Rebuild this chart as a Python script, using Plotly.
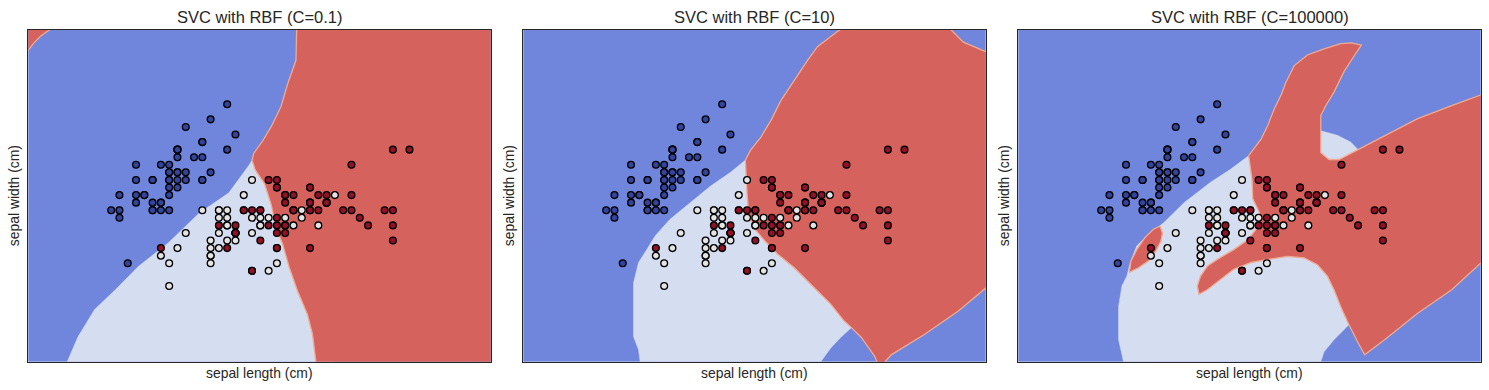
import plotly.graph_objects as go

# ---------------- data: iris sepal length / width / class ----------------
sepal_length = [
    5.1, 4.9, 4.7, 4.6, 5.0, 5.4, 4.6, 5.0, 4.4, 4.9, 5.4, 4.8, 4.8, 4.3, 5.8, 5.7, 5.4, 5.1, 5.7, 5.1,
    5.4, 5.1, 4.6, 5.1, 4.8, 5.0, 5.0, 5.2, 5.2, 4.7, 4.8, 5.4, 5.2, 5.5, 4.9, 5.0, 5.5, 4.9, 4.4, 5.1,
    5.0, 4.5, 4.4, 5.0, 5.1, 4.8, 5.1, 4.6, 5.3, 5.0,
    7.0, 6.4, 6.9, 5.5, 6.5, 5.7, 6.3, 4.9, 6.6, 5.2, 5.0, 5.9, 6.0, 6.1, 5.6, 6.7, 5.6, 5.8, 6.2, 5.6,
    5.9, 6.1, 6.3, 6.1, 6.4, 6.6, 6.8, 6.7, 6.0, 5.7, 5.5, 5.5, 5.8, 6.0, 5.4, 6.0, 6.7, 6.3, 5.6, 5.5,
    5.5, 6.1, 5.8, 5.0, 5.6, 5.7, 5.7, 6.2, 5.1, 5.7,
    6.3, 5.8, 7.1, 6.3, 6.5, 7.6, 4.9, 7.3, 6.7, 7.2, 6.5, 6.4, 6.8, 5.7, 5.8, 6.4, 6.5, 7.7, 7.7, 6.0,
    6.9, 5.6, 7.7, 6.3, 6.7, 7.2, 6.2, 6.1, 6.4, 7.2, 7.4, 7.9, 6.4, 6.3, 6.1, 7.7, 6.3, 6.4, 6.0, 6.9,
    6.7, 6.9, 5.8, 6.8, 6.7, 6.7, 6.3, 6.5, 6.2, 5.9,
]
sepal_width = [
    3.5, 3.0, 3.2, 3.1, 3.6, 3.9, 3.4, 3.4, 2.9, 3.1, 3.7, 3.4, 3.0, 3.0, 4.0, 4.4, 3.9, 3.5, 3.8, 3.8,
    3.4, 3.7, 3.6, 3.3, 3.4, 3.0, 3.4, 3.5, 3.4, 3.2, 3.1, 3.4, 4.1, 4.2, 3.1, 3.2, 3.5, 3.6, 3.0, 3.4,
    3.5, 2.3, 3.2, 3.5, 3.8, 3.0, 3.8, 3.2, 3.7, 3.3,
    3.2, 3.2, 3.1, 2.3, 2.8, 2.8, 3.3, 2.4, 2.9, 2.7, 2.0, 3.0, 2.2, 2.9, 2.9, 3.1, 3.0, 2.7, 2.2, 2.5,
    3.2, 2.8, 2.5, 2.8, 2.9, 3.0, 2.8, 3.0, 2.9, 2.6, 2.4, 2.4, 2.7, 2.7, 3.0, 3.4, 3.1, 2.3, 3.0, 2.5,
    2.6, 3.0, 2.6, 2.3, 2.7, 3.0, 2.9, 2.9, 2.5, 2.8,
    3.3, 2.7, 3.0, 2.9, 3.0, 3.0, 2.5, 2.9, 2.5, 3.6, 3.2, 2.7, 3.0, 2.5, 2.8, 3.2, 3.0, 3.8, 2.6, 2.2,
    3.2, 2.8, 2.8, 2.7, 3.3, 3.2, 2.8, 3.0, 2.8, 3.0, 2.8, 3.8, 2.8, 2.8, 2.6, 3.0, 3.4, 3.1, 3.0, 3.1,
    3.1, 3.1, 2.7, 3.2, 3.3, 3.0, 2.5, 3.0, 3.4, 3.0,
]
species = [0] * 50 + [1] * 50 + [2] * 50

titles = ["SVC with RBF (C=0.1)", "SVC with RBF (C=10)", "SVC with RBF (C=100000)"]
x_label = "sepal length (cm)"
y_label = "sepal width (cm)"

# ---------------- decision regions (data units) ----------------
# panel 1 (C=0.1)
p1_light_x = [3.75, 3.77, 3.90, 4.10, 4.35, 4.63, 4.99, 5.36, 5.72, 5.96, 6.00, 6.30, 7.00]
p1_light_y = [0.95, 1.00, 1.33, 1.69, 1.95, 2.26, 2.57, 2.96, 3.23, 3.59, 3.66, 3.66, 0.95]
p1_red_x = [6.00, 6.02, 6.13, 6.23, 6.35, 6.43, 6.53, 6.54, 9.00, 9.00, 6.78,
            6.77, 6.73, 6.67, 6.55, 6.45, 6.37, 6.29, 6.23, 6.15, 6.04, 6.00]
p1_red_y = [3.66, 3.75, 3.92, 4.10, 4.37, 4.67, 4.98, 5.45, 5.45, 0.95, 0.95,
            1.00, 1.36, 1.62, 1.93, 2.24, 2.55, 2.77, 3.08, 3.35, 3.53, 3.66]
p1_corner_x = [3.25, 3.30, 3.36, 3.45, 3.58, 3.62, 3.25]
p1_corner_y = [5.05, 5.11, 5.20, 5.30, 5.40, 5.45, 5.45]

# panel 2 (C=10)
p2_light_x = [4.71, 4.71, 4.69, 4.63, 4.63, 4.69, 4.79, 4.89, 5.07, 5.31, 5.56, 5.80, 6.00,
              6.30, 7.00, 7.28, 7.13, 7.01, 6.89, 6.87]
p2_light_y = [0.95, 1.00, 1.16, 1.33, 2.04, 2.31, 2.48, 2.66, 2.88, 3.10, 3.32, 3.50, 3.68,
              3.68, 2.20, 1.47, 1.32, 1.18, 1.00, 0.95]
p2_red_x = [5.98, 6.04, 6.17, 6.29, 6.41, 6.57, 6.73, 6.85, 7.09, 7.22, 8.40, 8.61, 8.89, 9.00,
            9.00, 8.89, 8.55, 8.14, 7.74, 7.64, 7.58, 7.54, 7.38, 7.26,
            7.17, 7.01, 6.81, 6.57, 6.37, 6.21, 6.08, 6.02, 6.00, 5.98, 5.98]
p2_red_y = [3.66, 3.79, 3.97, 4.19, 4.45, 4.72, 4.98, 5.16, 5.36, 5.45, 5.45, 5.22, 5.09, 5.00,
            2.08, 1.98, 1.67, 1.36, 1.09, 0.97, 0.97, 1.07, 1.32, 1.45,
            1.54, 1.76, 1.98, 2.24, 2.42, 2.60, 2.77, 2.95, 3.22, 3.57, 3.66]

# panel 3 (C=100000)
p3_light_x = [4.57, 4.57, 4.51, 4.51, 4.55, 4.61, 4.65, 4.73, 4.85, 5.06, 5.30, 5.62, 5.86, 6.08,
              6.40, 6.75, 6.95, 7.10, 7.20, 7.30, 7.11, 6.99, 6.95, 6.94]
p3_light_y = [0.95, 1.00, 1.29, 1.73, 2.00, 2.13, 2.31, 2.53, 2.66, 2.84, 3.10, 3.37, 3.54, 3.72,
              3.60, 2.50, 2.35, 2.10, 1.85, 1.50, 1.29, 1.13, 1.00, 0.95]
p3_pocket_x = [6.95, 7.15, 7.31, 7.42, 7.17, 7.05, 6.93]
p3_pocket_y = [4.05, 3.99, 3.90, 3.78, 3.62, 3.62, 3.72]
p3_red_x = [6.08, 6.23, 6.31, 6.39, 6.47, 6.53, 6.63, 6.79, 6.99, 7.19, 7.32, 7.44,
            7.36, 7.23, 7.11, 7.01, 6.95, 6.95, 6.95, 7.05, 7.17, 7.40,
            7.72, 8.12, 8.53, 8.89, 9.00, 9.00, 8.89, 8.53, 8.12, 7.72, 7.48,
            7.40, 7.32, 7.28, 7.19, 7.11, 7.03, 6.91, 6.75, 6.55, 6.31, 6.11, 5.90, 5.74, 5.58, 5.48,
            5.46, 5.50, 5.58, 5.70, 5.90, 6.07, 6.17, 6.21, 6.13, 6.12, 6.10, 6.08]
p3_red_y = [3.72, 3.94, 4.12, 4.34, 4.52, 4.69, 4.91, 5.05, 5.13, 5.20, 5.21, 5.18,
            5.05, 4.83, 4.56, 4.38, 4.25, 4.05, 3.76, 3.67, 3.67, 3.80,
            3.98, 4.21, 4.38, 4.52, 4.57, 2.40, 2.31, 1.95, 1.64, 1.29, 1.09,
            1.25, 1.42, 1.51, 1.73, 1.95, 2.13, 2.28, 2.37, 2.39, 2.35, 2.31, 2.22, 2.08, 1.95, 1.89,
            2.00, 2.13, 2.26, 2.35, 2.48, 2.61, 2.75, 2.97, 3.15, 3.41, 3.55, 3.72]
p3_island_x = [5.01, 5.04, 5.02, 4.96, 4.87, 4.75, 4.64, 4.66, 4.73, 4.83, 4.93, 5.01]
p3_island_y = [2.79, 2.70, 2.59, 2.46, 2.33, 2.24, 2.18, 2.33, 2.48, 2.64, 2.75, 2.79]

x_range = [3.3, 8.88]
y_range = [1.0, 5.38]

# ---------------- styling ----------------
BLUE_BG = "#6f86dc"
LIGHT = "#d5ddf0"
RED = "#d5625d"
RED_EDGE = "#f1aa92"
POINT_COLORS = {0: "#33449c", 1: "#e4e4e4", 2: "#921127"}
TEXT = "#262626"
FONT = "Liberation Sans, Arial, sans-serif"

W, H = 1489, 390
frames_px = [(28.3, 490.7), (523.3, 985.7), (1018.3, 1480.7)]
top_px, bottom_px = 30.0, 361.7

fig = go.Figure()

panels = [
    [(p1_light_x, p1_light_y, LIGHT, LIGHT, 0.5),
     (p1_red_x, p1_red_y, RED, RED_EDGE, 1.3),
     (p1_corner_x, p1_corner_y, RED, RED_EDGE, 1.3)],
    [(p2_light_x, p2_light_y, LIGHT, LIGHT, 0.5),
     (p2_red_x, p2_red_y, RED, RED_EDGE, 1.3)],
    [(p3_light_x, p3_light_y, LIGHT, LIGHT, 0.5),
     (p3_pocket_x, p3_pocket_y, LIGHT, LIGHT, 0.5),
     (p3_red_x, p3_red_y, RED, RED_EDGE, 1.3),
     (p3_island_x, p3_island_y, RED, RED_EDGE, 1.3)],
]

annotations = []
for i, (polys, title, (l, r)) in enumerate(zip(panels, titles, frames_px)):
    sfx = "" if i == 0 else str(i + 1)
    xa, ya = "x" + sfx, "y" + sfx
    for px, py, fillc, linec, lw in polys:
        fig.add_trace(go.Scatter(x=px, y=py, mode="lines", fill="toself", fillcolor=fillc,
                                 line=dict(color=linec, width=lw), hoverinfo="skip",
                                 showlegend=False, xaxis=xa, yaxis=ya))
    fig.add_trace(go.Scatter(
        x=sepal_length, y=sepal_width, mode="markers", showlegend=False,
        marker=dict(size=6.8, color=[POINT_COLORS[c] for c in species],
                    line=dict(color="black", width=1.3)),
        xaxis=xa, yaxis=ya))
    dom = [l / W, r / W]
    fig.layout["xaxis" + sfx] = dict(domain=dom, range=x_range, showticklabels=False, ticks="",
                                     showgrid=False, zeroline=False, showline=True, mirror=True,
                                     linecolor=TEXT, linewidth=1.25, anchor=ya)
    fig.layout["yaxis" + sfx] = dict(domain=[1 - bottom_px / H, 1 - top_px / H], range=y_range,
                                     showticklabels=False, ticks="", showgrid=False, zeroline=False,
                                     showline=True, mirror=True, linecolor=TEXT, linewidth=1.25,
                                     anchor=xa)
    cx = (l + r) / 2 / W
    annotations.append(dict(text=title, x=cx, y=1 - 16.8 / H, xref="paper", yref="paper",
                            xanchor="center", yanchor="middle", showarrow=False,
                            font=dict(size=16.5, color=TEXT, family=FONT)))
    annotations.append(dict(text=x_label, x=cx, y=1 - 373 / H, xref="paper", yref="paper",
                            xanchor="center", yanchor="middle", showarrow=False,
                            font=dict(size=13.9, color=TEXT, family=FONT)))
    annotations.append(dict(text=y_label, x=(l - 14) / W, y=1 - (top_px + bottom_px) / 2 / H,
                            xref="paper", yref="paper", xanchor="center", yanchor="middle",
                            textangle=-90, showarrow=False,
                            font=dict(size=13.9, color=TEXT, family=FONT)))

fig.update_layout(width=W, height=H, margin=dict(l=0, r=0, t=0, b=0),
                  paper_bgcolor="white", plot_bgcolor=BLUE_BG,
                  annotations=annotations, showlegend=False)

fig.write_html("out.html", config={"displayModeBar": False},
               post_script="document.body.style.margin='0';document.body.style.padding='0';"
                           "document.body.style.overflow='hidden';")
